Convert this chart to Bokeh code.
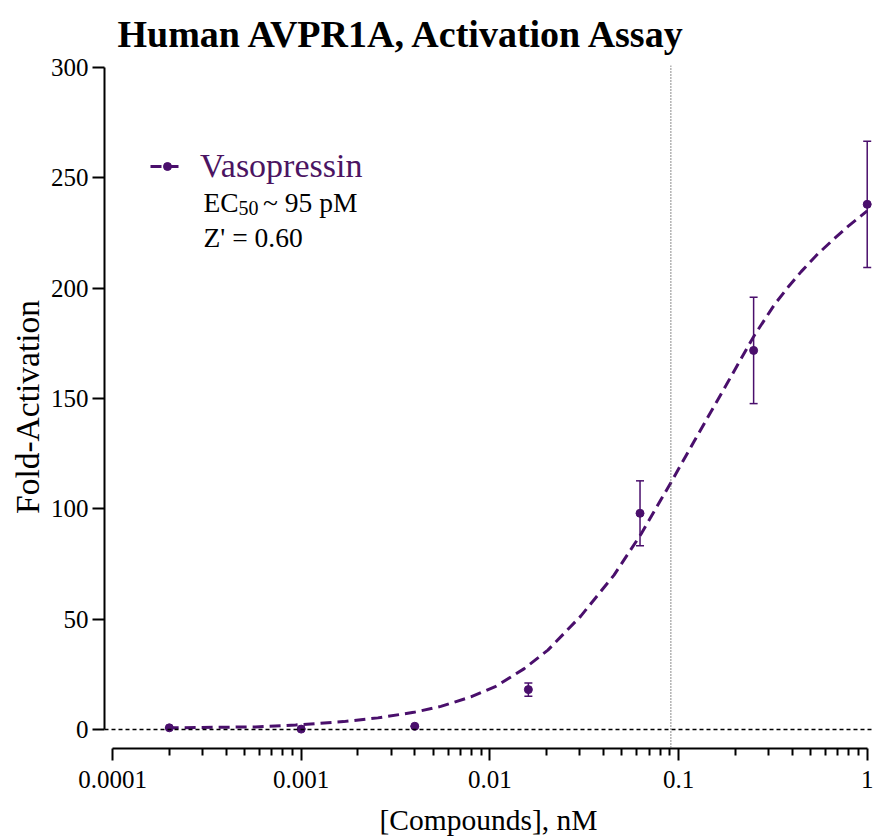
from bokeh.plotting import figure
from bokeh.models import (Range1d, FixedTicker, CustomJSTickFormatter, Span, Whisker, TeeHead,
                          ColumnDataSource, Legend, LegendItem, Label)
from bokeh.embed import file_html
from bokeh.resources import INLINE

# ---- data ----
conc = [0.0002, 0.001, 0.004, 0.016, 0.0625, 0.25, 1.0]          # nM
fold = [0.8, 0.2, 1.5, 18.1, 98.0, 171.8, 238.0]
err = [0.0, 0.0, 0.0, 3.0, 14.7, 24.1, 28.6]

# fitted curve
fit_conc = [0.000196, 0.000574, 0.000935, 0.00168, 0.00255, 0.00395, 0.0055, 0.00793,
            0.01076, 0.01515, 0.0203, 0.0304, 0.0455, 0.0632, 0.0912, 0.1208, 0.1429,
            0.1786, 0.2518, 0.322, 0.381, 0.4467, 0.547, 0.670, 0.791, 1.0]
fit_fold = [0.8, 1.2, 2.1, 3.6, 5.3, 7.8, 10.5, 14.8,
            19.6, 27.5, 36.0, 51.5, 70.0, 88.5, 112.0, 130.5, 141.5,
            156.0, 178.5, 192.5, 200.5, 207.5, 215.5, 222.5, 228.0, 235.0]

x_ticks = [0.0001, 0.001, 0.01, 0.1, 1.0]
x_tick_labels = ["0.0001", "0.001", "0.01", "0.1", "1"]
x_minor = [k * t for t in x_ticks[:-1] for k in range(2, 10)]
y_ticks = [0, 50, 100, 150, 200, 250, 300]
ec50_marker = 0.091
title_text = "Human AVPR1A, Activation Assay"
x_label = "[Compounds], nM"
y_label = "Fold-Activation"
series_name = "Vasopressin"
note_ec50 = ("EC", "50", "~ 95 pM")
note_z = "Z' = 0.60"

PURPLE = "#4a0f6c"
TEXT_PURPLE = "#4b1462"
FONT = "Liberation Serif"

W, H = 873, 838
BL, BR, BT, BB = 104, 1, 64, 89

p = figure(width=W, height=H, x_axis_type="log", output_backend="svg",
           toolbar_location=None,
           x_range=Range1d(10 ** -4.0424, 10 ** 0.028),
           y_range=Range1d(-8.58, 300.9),
           min_border_left=BL, min_border_right=BR, min_border_top=BT, min_border_bottom=BB)
p.outline_line_color = None
p.grid.visible = False
p.background_fill_color = "white"
p.border_fill_color = "white"

# title
p.title.text = title_text
p.title.text_font = FONT
p.title.text_font_size = "38px"
p.title.text_font_style = "bold"
p.title.text_color = "black"
p.title.align = "left"
p.title.offset = 13
p.title.standoff = 21

# x axis
xa = p.xaxis[0]
xa.ticker = FixedTicker(ticks=x_ticks, minor_ticks=x_minor)
xa.formatter = CustomJSTickFormatter(args=dict(tick_vals=x_ticks, tick_text=x_tick_labels), code="""
for (let i = 0; i < tick_vals.length; i++) {
  if (Math.abs(Math.log10(tick) - Math.log10(tick_vals[i])) < 1e-6) { return tick_text[i]; }
}
return "";
""")
xa.bounds = (x_ticks[0], x_ticks[-1])
xa.axis_line_width = 2
xa.major_tick_line_width = 2
xa.minor_tick_line_width = 2
xa.major_tick_in = 0
xa.major_tick_out = 12
xa.minor_tick_in = 0
xa.minor_tick_out = 7
xa.major_label_text_font = FONT
xa.major_label_text_font_size = "25px"
xa.major_label_text_color = "black"
xa.major_label_standoff = 10
xa.axis_label = x_label
xa.axis_label_text_font = FONT
xa.axis_label_text_font_size = "29.5px"
xa.axis_label_text_font_style = "normal"
xa.axis_label_text_color = "black"
xa.axis_label_standoff = 13

# y axis
ya = p.yaxis[0]
ya.ticker = FixedTicker(ticks=y_ticks)
ya.bounds = (y_ticks[0], y_ticks[-1])
ya.axis_line_width = 2
ya.major_tick_line_width = 2
ya.major_tick_in = 0
ya.major_tick_out = 12
ya.minor_tick_line_color = None
ya.major_label_text_font = FONT
ya.major_label_text_font_size = "25px"
ya.major_label_text_color = "black"
ya.major_label_standoff = 4
ya.axis_label = y_label
ya.axis_label_text_font = FONT
ya.axis_label_text_font_size = "33.5px"
ya.axis_label_text_font_style = "normal"
ya.axis_label_text_color = "black"
ya.axis_label_standoff = 2

# reference lines
p.add_layout(Span(location=0, dimension="width", line_color="black",
                  line_dash="4 3", line_width=1.5))
p.add_layout(Span(location=ec50_marker, dimension="height", line_color="#666666",
                  line_dash="1 2", line_width=1.5))

# fit curve and points
curve = p.line(fit_conc, fit_fold, line_color=PURPLE, line_width=3, line_dash="11 6")
src = ColumnDataSource(dict(x=conc, y=fold,
                            upper=[m + e for m, e in zip(fold, err)],
                            lower=[m - e for m, e in zip(fold, err)]))
pts = p.scatter("x", "y", source=src, size=8, color=PURPLE)
p.add_layout(Whisker(source=src, base="x", upper="upper", lower="lower",
                     line_color=PURPLE, line_width=1.5,
                     upper_head=TeeHead(size=8, line_color=PURPLE, line_width=1.5),
                     lower_head=TeeHead(size=8, line_color=PURPLE, line_width=1.5)))

# legend
legend = Legend(items=[LegendItem(label=series_name, renderers=[curve, pts])],
                location=(46, 562), padding=0, margin=0, spacing=0,
                glyph_width=34, glyph_height=20, label_height=40, label_standoff=16,
                label_text_font=FONT, label_text_font_size="34px",
                label_text_color=TEXT_PURPLE,
                background_fill_alpha=0, border_line_color=None)
p.add_layout(legend)

def screen_label(x, y, text, size, **kw):
    opts = dict(text_font=FONT, text_font_size=size, text_color="black",
                text_baseline="alphabetic")
    opts.update(kw)
    p.add_layout(Label(x=x, y=y, x_units="screen", y_units="screen", text=text, **opts))

# annotation text
screen_label(99, 546, note_ec50[0], "27.5px")
screen_label(134, 541, note_ec50[1], "20px")
screen_label(158.5, 546, note_ec50[2], "27.5px")
screen_label(99, 511, note_z, "27.5px")

open("out.html", "w").write(file_html(p, INLINE))
